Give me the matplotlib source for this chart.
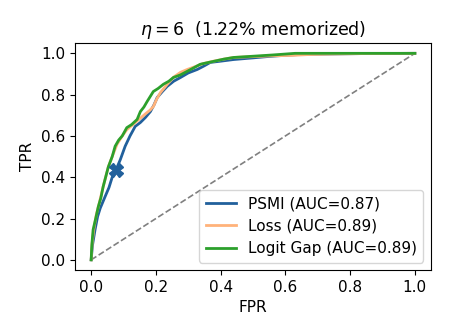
import matplotlib
matplotlib.use("Agg")
import matplotlib.pyplot as plt

psmi_fpr = [0.0, 0.004, 0.012, 0.02, 0.028, 0.043, 0.055, 0.065, 0.076, 0.09, 0.105, 0.12, 0.127, 0.136, 0.152, 0.168, 0.183, 0.194, 0.204, 0.22, 0.235, 0.255, 0.276, 0.30, 0.328, 0.35, 0.368, 0.40, 0.44, 0.50, 0.55, 0.595, 0.65, 0.75, 0.85, 1.0]
psmi_tpr = [0.0, 0.07, 0.146, 0.21, 0.25, 0.306, 0.35, 0.40, 0.433, 0.485, 0.55, 0.60, 0.62, 0.646, 0.665, 0.69, 0.718, 0.75, 0.786, 0.815, 0.84, 0.865, 0.883, 0.905, 0.922, 0.94, 0.956, 0.962, 0.97, 0.978, 0.985, 0.99, 0.995, 0.997, 0.999, 1.0]

loss_fpr = [0.0, 0.003, 0.008, 0.016, 0.025, 0.037, 0.053, 0.065, 0.08, 0.096, 0.11, 0.125, 0.14, 0.155, 0.17, 0.182, 0.192, 0.203, 0.214, 0.235, 0.255, 0.276, 0.297, 0.32, 0.345, 0.378, 0.41, 0.44, 0.50, 0.56, 0.62, 0.67, 0.75, 0.85, 1.0]
loss_tpr = [0.0, 0.08, 0.146, 0.22, 0.275, 0.354, 0.45, 0.50, 0.56, 0.60, 0.63, 0.65, 0.67, 0.69, 0.71, 0.725, 0.742, 0.78, 0.81, 0.85, 0.885, 0.908, 0.922, 0.935, 0.95, 0.962, 0.972, 0.98, 0.984, 0.988, 0.99, 0.994, 0.997, 0.999, 1.0]

gap_fpr = [0.0, 0.002, 0.006, 0.014, 0.022, 0.03, 0.037, 0.053, 0.065, 0.074, 0.085, 0.096, 0.11, 0.125, 0.142, 0.152, 0.163, 0.173, 0.192, 0.207, 0.223, 0.24, 0.254, 0.275, 0.297, 0.317, 0.337, 0.36, 0.378, 0.41, 0.44, 0.50, 0.56, 0.63, 0.75, 0.85, 1.0]
gap_tpr = [0.0, 0.07, 0.146, 0.2, 0.257, 0.30, 0.354, 0.45, 0.50, 0.55, 0.58, 0.60, 0.64, 0.655, 0.68, 0.718, 0.74, 0.767, 0.815, 0.83, 0.85, 0.865, 0.883, 0.895, 0.913, 0.93, 0.947, 0.955, 0.961, 0.972, 0.98, 0.986, 0.992, 1.0, 1.0, 1.0, 1.0]

cross_fpr = [0.076]
cross_tpr = [0.433]

labels = ["PSMI (AUC=0.87)", "Loss (AUC=0.89)", "Logit Gap (AUC=0.89)"]
title = r"$\eta=6$  (1.22% memorized)"

plt.rcParams["font.size"] = 11

fig = plt.figure(figsize=(4.49, 3.36), dpi=100)
ax = fig.add_axes([0.167, 0.196, 0.793, 0.676])

c_blue = "#21609c"
c_orange = "#ffb27a"
c_green = "#2ca02c"

ax.plot([0, 1], [0, 1], linestyle="--", color="gray", linewidth=1.2)
ax.plot(psmi_fpr, psmi_tpr, color=c_blue, linewidth=2, label=labels[0])
ax.plot(loss_fpr, loss_tpr, color=c_orange, linewidth=2, label=labels[1])
ax.plot(gap_fpr, gap_tpr, color=c_green, linewidth=2, label=labels[2])
ax.plot(cross_fpr, cross_tpr, marker="X", markersize=10, color=c_blue, linestyle="none")

ax.set_xticks([0, 0.2, 0.4, 0.6, 0.8, 1.0])
ax.set_yticks([0, 0.2, 0.4, 0.6, 0.8, 1.0])
ax.set_xlabel("FPR")
ax.set_ylabel("TPR")
ax.set_title(title, fontsize=12.5)
ax.legend(loc="lower right")

fig.savefig("out.png", dpi=100)
